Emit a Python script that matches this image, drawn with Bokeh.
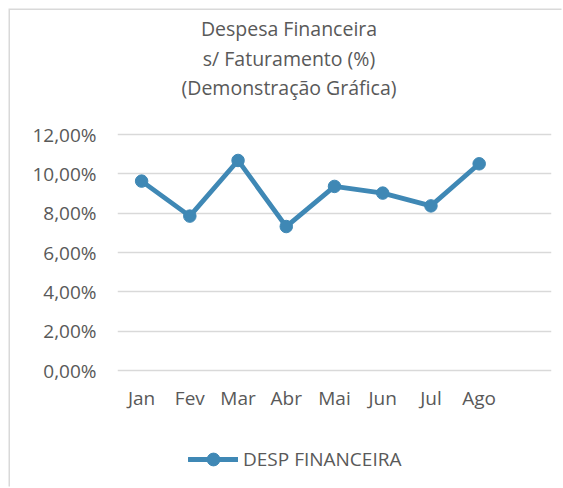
from bokeh.plotting import figure
from bokeh.models import Range1d, FixedTicker, Legend, LegendItem, Label
from bokeh.embed import file_html
from bokeh.resources import INLINE

# ---- data ----
months = ["Jan", "Fev", "Mar", "Abr", "Mai", "Jun", "Jul", "Ago"]
desp_financeira = [9.63, 7.85, 10.68, 7.32, 9.36, 9.02, 8.37, 10.51]
y_ticks = [0, 2, 4, 6, 8, 10, 12]
y_tick_labels = ["0,00%", "2,00%", "4,00%", "6,00%", "8,00%", "10,00%", "12,00%"]
title_lines = ["Despesa Financeira", "s/ Faturamento (%)", "(Demonstração Gráfica)"]
series_name = "DESP FINANCEIRA"

FONT = "Open Sans"
TXT = "#595959"
BLUE = "#3F88B5"
GRID = "#d9d9d9"

x_idx = list(range(len(months)))

# The frame spans the full chart height so that title and legend (drawn as
# annotations) are not clipped; the value axis covers 0..12 % of it.
W, H = 553, 478
PX_PER_UNIT = 236 / 12.0          # 12 % over 236 px
TOP_PAD_PX = 124                  # from canvas top to the 12 % gridline
BOT_PAD_PX = 118                  # from the 0 % gridline to canvas bottom
y_top = 12 + TOP_PAD_PX / PX_PER_UNIT
y_bot = -BOT_PAD_PX / PX_PER_UNIT

p = figure(width=W, height=H, output_backend="svg", toolbar_location=None,
           x_range=Range1d(-0.5, 8.5), y_range=Range1d(y_bot, y_top),
           min_border_left=107, min_border_right=12,
           min_border_top=0, min_border_bottom=0)
p.title.visible = False
p.toolbar.logo = None
p.styles = {"margin-left": "9.5px", "margin-top": "9.5px",
            "box-shadow": f"-1.5px -1.5px 0 0 {GRID}"}
p.outline_line_color = None
p.background_fill_color = "white"
p.border_fill_color = "white"

p.yaxis.ticker = FixedTicker(ticks=y_ticks)
p.yaxis.major_label_overrides = {t: l for t, l in zip(y_ticks, y_tick_labels)}
p.xaxis.ticker = FixedTicker(ticks=x_idx)
p.xaxis.major_label_overrides = {i: m for i, m in zip(x_idx, months)}
p.xaxis.fixed_location = 0
for ax in (p.xaxis, p.yaxis):
    ax.axis_line_color = None
    ax.major_tick_line_color = None
    ax.minor_tick_line_color = None
    ax.major_tick_out = 0
    ax.major_tick_in = 0
    ax.minor_tick_out = 0
    ax.major_label_text_font = FONT
    ax.major_label_text_font_size = "19px"
    ax.major_label_text_color = TXT
p.yaxis.major_label_standoff = 21
p.xaxis.major_label_standoff = 14

p.xgrid.visible = False
p.ygrid.grid_line_color = GRID
p.ygrid.grid_line_width = 1.3

r_line = p.line(x_idx, desp_financeira, line_color=BLUE, line_width=4.8,
                line_cap="round", line_join="round")
r_pts = p.scatter(x_idx, desp_financeira, size=12.5, fill_color=BLUE, line_color=BLUE)

legend = Legend(items=[LegendItem(label=series_name, renderers=[r_line, r_pts])],
                location=(71.5, 12.5), orientation="horizontal",
                glyph_width=50, glyph_height=32, label_standoff=5,
                padding=0, margin=0, border_line_color=None,
                background_fill_alpha=0,
                label_text_font=FONT, label_text_font_size="19px",
                label_text_color=TXT)
p.add_layout(legend)

# title lines, baselines measured from the frame bottom (screen px)
for line, yb in zip(title_lines, [460, 430.5, 401]):
    p.add_layout(Label(x=171.5, y=yb, x_units="screen", y_units="screen",
                       text=line, text_align="center", text_baseline="alphabetic",
                       text_font=FONT, text_font_size="19.5px", text_color=TXT))

open("out.html", "w").write(file_html(p, INLINE))
